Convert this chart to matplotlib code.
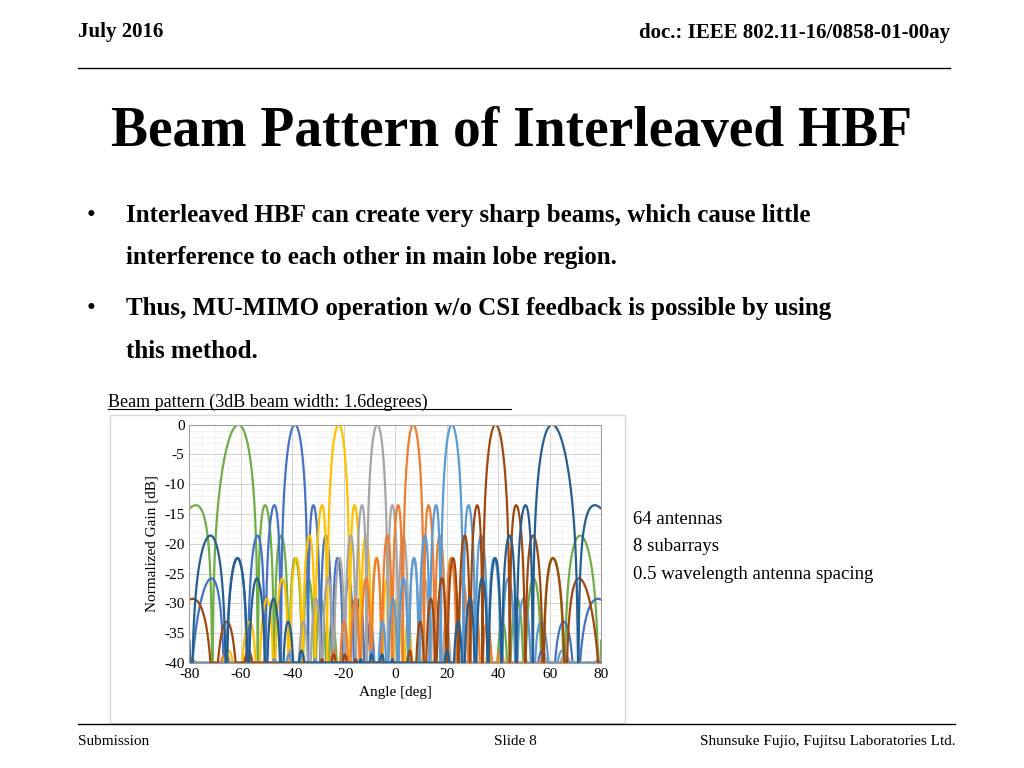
import numpy as np
import matplotlib
matplotlib.use("Agg")
import matplotlib.pyplot as plt
plt.rcParams["axes.unicode_minus"] = False

steer_deg = [-61, -39, -22, -7, 7, 22, 39, 61]
colors = ["#70AD47", "#4472C4", "#FFC000", "#A5A5A5", "#ED7D31", "#5B9BD5", "#9E480E", "#255E91"]
n_elem = 28
n_sub = 3
x_ticks = [-80, -60, -40, -20, 0, 20, 40, 60, 80]
y_ticks = [0, -5, -10, -15, -20, -25, -30, -35, -40]

fig = plt.figure(figsize=(10.24, 7.68), dpi=100)
fig.patch.set_facecolor("white")
serif = "Liberation Serif"
fig.text(0.076, 0.952, "July 2016", fontsize=15, fontweight="bold", family=serif)
fig.text(0.928, 0.95, "doc.: IEEE 802.11-16/0858-01-00ay", fontsize=15, fontweight="bold", family=serif, ha="right")
fig.add_artist(plt.Line2D([0.076, 0.928], [0.912, 0.912], color="black", lw=1))
fig.text(0.5, 0.81, "Beam Pattern of Interleaved HBF", fontsize=40, fontweight="bold", family=serif, ha="center")
bul = [("Interleaved HBF can create very sharp beams, which cause little", 0.711),
       ("interference to each other in main lobe region.", 0.656),
       ("Thus, MU-MIMO operation w/o CSI feedback is possible by using", 0.59),
       ("this method.", 0.534)]
for i, (t, y) in enumerate(bul):
    if i in (0, 2):
        fig.text(0.085, y, "•", fontsize=18, family=serif)
    fig.text(0.123, y, t, fontsize=18, fontweight="bold", family=serif)
fig.text(0.105, 0.47, "Beam pattern (3dB beam width: 1.6degrees)", fontsize=13, family=serif)
fig.add_artist(plt.Line2D([0.105, 0.499], [0.467, 0.467], color="black", lw=0.8))
for i, t in enumerate(["64 antennas", "8 subarrays", "0.5 wavelength antenna spacing"]):
    fig.text(0.618, 0.318 - i*0.036, t, fontsize=13.5, family=serif)
fig.add_artist(plt.Rectangle((0.107, 0.058), 0.503, 0.402, fill=False, ec="#D9D9D9", lw=1))
fig.add_artist(plt.Line2D([0.076, 0.933], [0.057, 0.057], color="black", lw=1))
fig.text(0.076, 0.03, "Submission", fontsize=11, family=serif)
fig.text(0.503, 0.03, "Slide 8", fontsize=11, family=serif, ha="center")
fig.text(0.933, 0.03, "Shunsuke Fujio, Fujitsu Laboratories Ltd.", fontsize=11, family=serif, ha="right")

def af(psi, n):
    den = n * np.sin(psi / 2)
    small = np.abs(den) < 1e-9
    return np.where(small, 1.0, np.sin(n * psi / 2) / np.where(small, 1, den))

ax = fig.add_axes([0.185, 0.137, 0.402, 0.31])
th = np.linspace(-80, 80, 8001)
for s, c in zip(steer_deg, colors):
    psi = np.pi * (np.sin(np.radians(th)) - np.sin(np.radians(s)))
    a = af(psi, n_elem) * af(psi, n_sub)
    g = 20 * np.log10(np.abs(a) + 1e-6)
    ax.plot(th, np.clip(g, -40, 0), color=c, lw=1.6)
ax.set_xlim(-80, 80)
ax.set_ylim(-40, 0)
ax.set_xticks(x_ticks)
ax.set_yticks(y_ticks)
ax.set_xticks(np.arange(-80, 81, 5), minor=True)
ax.set_yticks(np.arange(-40, 1, 1), minor=True)
ax.grid(True, which="major", color="#D0D0D0", lw=0.7)
ax.grid(True, which="minor", color="#EFEFEF", lw=0.5)
ax.tick_params(length=0, labelsize=11, which="both")
for lab in ax.get_xticklabels() + ax.get_yticklabels():
    lab.set_family(serif)
for sp in ax.spines.values():
    sp.set_color("#A0A0A0")
ax.set_xlabel("Angle [deg]", family=serif, fontsize=11)
ax.set_ylabel("Normalized Gain [dB]", family=serif, fontsize=11)
fig.savefig("out.png", dpi=100)
